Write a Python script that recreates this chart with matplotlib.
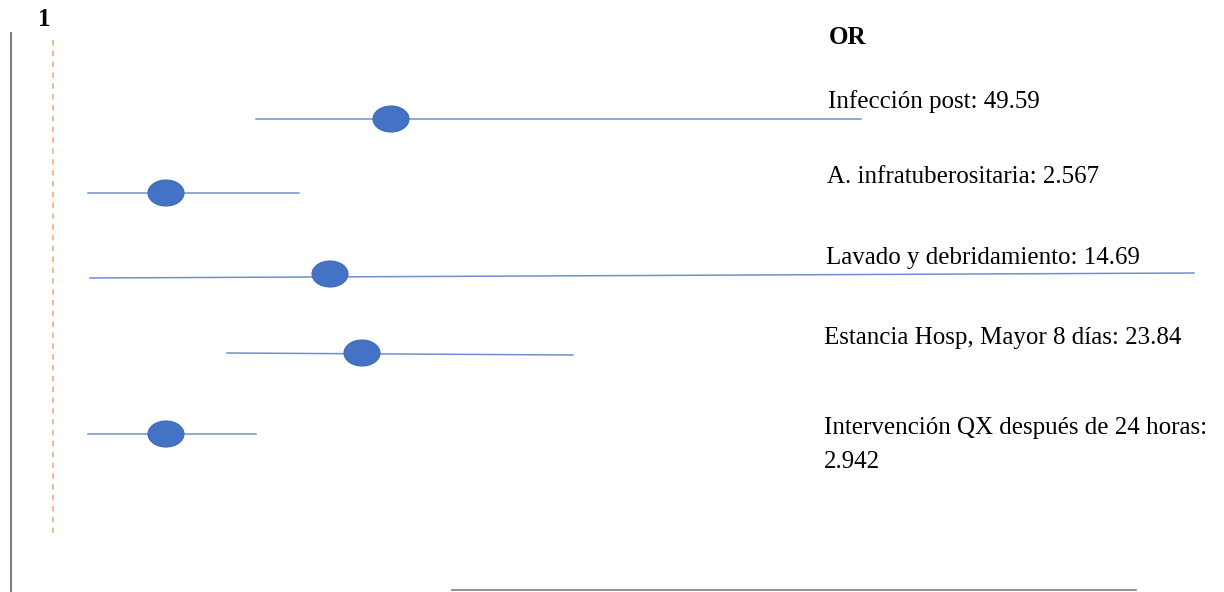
import matplotlib
matplotlib.use('Agg')
import matplotlib.pyplot as plt
from matplotlib.patches import Ellipse

# data (positions on the drawing's horizontal scale)
labels = ['Infección post: 49.59',
          'A. infratuberositaria: 2.567',
          'Lavado y debridamiento: 14.69',
          'Estancia Hosp, Mayor 8 días: 23.84',
          'Intervención QX después de 24 horas:\n2.942']
ci_low = [256, 88, 90, 227, 88]
ci_high = [861, 299, 1194, 573, 256]
point = [391, 166, 330, 362, 166]
row_y = [119, 193, 274, 353, 434]
row_y_low = [119, 193, 278, 353, 434]
row_y_high = [119, 193, 273, 355, 434]
label_y = [102, 177, 258, 338, 445]
label_x = [828, 827, 826, 824, 824]
ref_value = 53


def main():
    plt.rcParams['font.family'] = ['Liberation Serif', 'DejaVu Serif']
    fig = plt.figure(figsize=(12.24, 5.92), dpi=100)
    ax = fig.add_axes([0, 0, 1, 1])
    ax.set_xlim(0, 1224)
    ax.set_ylim(592, 0)
    ax.axis('off')

    # frame lines
    ax.plot([11, 11], [33, 592], color='#7f7f7f', lw=1.5)
    ax.plot([452, 1136], [590, 590], color='#7f7f7f', lw=1.2)
    ax.plot([ref_value, ref_value], [40, 535], color='#f4b183', lw=1.3,
            ls=(0, (3, 3)))
    ax.text(ref_value - 9, 20, '1', fontsize=18, fontweight='bold',
            ha='center', va='center')
    ax.text(829, 37, 'OR', fontsize=18, fontweight='bold',
            ha='left', va='center')

    for i in range(len(labels)):
        ax.plot([ci_low[i], ci_high[i]], [row_y_low[i], row_y_high[i]],
                color='#6f8fd0', lw=1.1, zorder=2)
        ax.add_patch(Ellipse((point[i], row_y[i]), 36, 26,
                             facecolor='#4472c4', edgecolor='#3f68b5',
                             lw=0.8, zorder=3))
        ax.text(label_x[i], label_y[i], labels[i], fontsize=18, ha='left',
                va='center', linespacing=1.65)

    fig.savefig('out.png', dpi=100)


if __name__ == '__main__':
    main()
